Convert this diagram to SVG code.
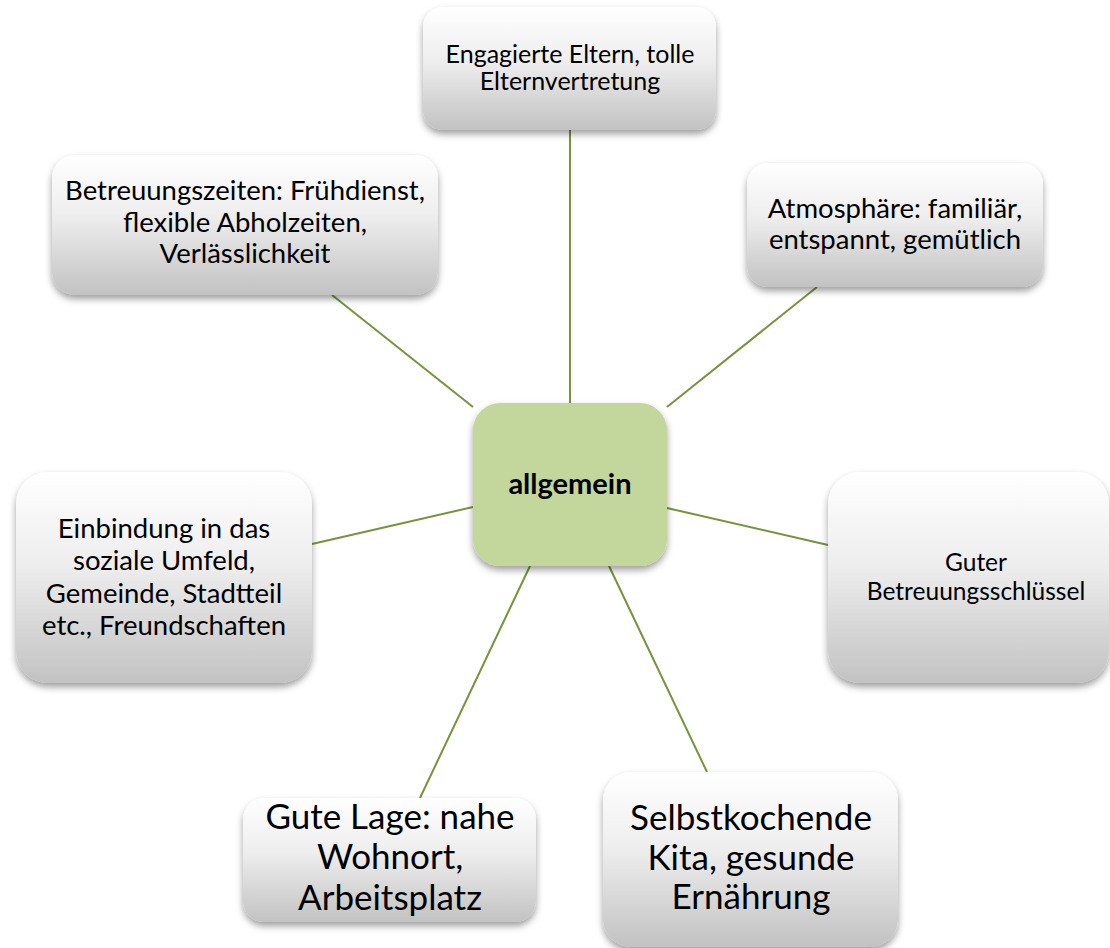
<svg xmlns="http://www.w3.org/2000/svg" width="1110" height="948" viewBox="0 0 1110 948">
<defs>
<linearGradient id="gray" x1="0" y1="0" x2="0" y2="1">
<stop offset="0" stop-color="#ffffff"/>
<stop offset="0.45" stop-color="#ededed"/>
<stop offset="1" stop-color="#c2c2c2"/>
</linearGradient>
<filter id="sh" x="-10%" y="-10%" width="120%" height="130%">
<feDropShadow dx="0" dy="4" stdDeviation="3.5" flood-color="#000" flood-opacity="0.38"/>
</filter>
</defs>
<style>
.box{fill:url(#gray);filter:url(#sh)}
.ctr{fill:#c3d69b;filter:url(#sh)}
.t{font-family:Lato,"Liberation Sans",sans-serif;fill:#000;text-anchor:middle}
.c line{stroke:#77933c;stroke-width:2}
</style>
<rect width="1110" height="948" fill="#fff"/>
<g id="connectors" class="c">
<line x1="570" y1="130" x2="570" y2="403"/>
<line x1="332" y1="295" x2="473" y2="407"/>
<line x1="817" y1="287" x2="667" y2="407"/>
<line x1="312" y1="544" x2="473" y2="507"/>
<line x1="667" y1="508" x2="828" y2="545"/>
<line x1="530" y1="566" x2="420" y2="798"/>
<line x1="609" y1="566" x2="707" y2="772"/>
</g>
<g id="n-top">
<rect class="box" x="423" y="7" width="293" height="123" rx="20"/>
<text class="t" font-size="25" x="570" y="63">Engagierte Eltern, tolle</text>
<text class="t" font-size="25" x="570" y="90">Elternvertretung</text>
</g>
<g id="n-betreuung">
<rect class="box" x="52" y="155" width="386" height="140" rx="23"/>
<text class="t" font-size="27.5" x="245" y="200">Betreuungszeiten: Frühdienst,</text>
<text class="t" font-size="27.5" x="245" y="231.5">flexible Abholzeiten,</text>
<text class="t" font-size="27.5" x="245" y="263">Verlässlichkeit</text>
</g>
<g id="n-atmo">
<rect class="box" x="747" y="163" width="296" height="124" rx="21"/>
<text class="t" font-size="27.5" x="895" y="218">Atmosphäre: familiär,</text>
<text class="t" font-size="27.5" x="895" y="249">entspannt, gemütlich</text>
</g>
<g id="n-einbindung">
<rect class="box" x="16" y="472" width="296" height="211" rx="32"/>
<text class="t" font-size="27.5" x="164" y="538">Einbindung in das</text>
<text class="t" font-size="27.5" x="164" y="570">soziale Umfeld,</text>
<text class="t" font-size="27.5" x="164" y="603">Gemeinde, Stadtteil</text>
<text class="t" font-size="27.5" x="164" y="635">etc., Freundschaften</text>
</g>
<g id="n-guter">
<rect class="box" x="828" y="472" width="281" height="211" rx="32"/>
<text class="t" font-size="24.5" x="976" y="571">Guter</text>
<text class="t" font-size="24.5" x="976" y="600">Betreuungsschlüssel</text>
</g>
<g id="n-lage">
<rect class="box" x="243" y="798" width="293" height="124" rx="21"/>
<text class="t" font-size="35" x="390" y="829">Gute Lage: nahe</text>
<text class="t" font-size="35" x="390" y="869">Wohnort,</text>
<text class="t" font-size="35" x="390" y="910">Arbeitsplatz</text>
</g>
<g id="n-kita">
<rect class="box" x="603" y="772" width="295" height="175" rx="28"/>
<text class="t" font-size="35" x="751" y="830">Selbstkochende</text>
<text class="t" font-size="35" x="751" y="870">Kita, gesunde</text>
<text class="t" font-size="35" x="751" y="909">Ernährung</text>
</g>
<g id="n-center">
<rect class="ctr" x="473" y="403" width="194" height="163" rx="27"/>
<text class="t" font-size="29" font-weight="bold" x="570" y="494">allgemein</text>
</g>
</svg>
